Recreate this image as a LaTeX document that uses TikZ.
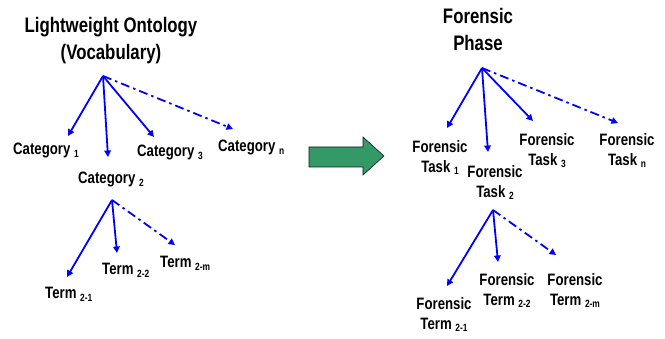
\documentclass[tikz,border=0pt]{standalone}
\usepackage{fontspec}
\setmainfont{Liberation Sans}[FakeStretch=0.8]
\usetikzlibrary{arrows.meta}
\newcommand{\dsub}[1]{\raisebox{-0.3ex}{\fontsize{10.5}{10.5}\selectfont #1}}
\definecolor{arrowgreen}{HTML}{339966}
\tikzset{
  titletext/.style={font=\fontsize{21}{27}\selectfont\bfseries, align=center, inner sep=0pt, anchor=north},
  lbl/.style={font=\fontsize{16.5}{20}\selectfont\bfseries, inner sep=0pt, anchor=base west},
  lbltwo/.style={font=\fontsize{16.5}{20}\selectfont\bfseries, align=center, inner sep=0pt, anchor=north},
  link/.style={draw=blue, line width=1.8pt, -{Triangle[width=6.5pt,length=6.5pt]}},
  dlink/.style={link, dash pattern=on 9pt off 4pt on 2.5pt off 4pt},
}
\begin{document}
\begin{tikzpicture}[x=1pt,y=-1pt]
\useasboundingbox (0,0) rectangle (665,339);
% left tree
\node[titletext] (lt) at (111,17) {Lightweight Ontology\\(Vocabulary)};
\coordinate (lr) at (103,76);
\coordinate (c1e) at (68,136);
\coordinate (c2e) at (108,157);
\coordinate (c3e) at (154,137);
\coordinate (cne) at (233,129);
\node[lbl] (c1) at (13,155) {Category \dsub{1}};
\node[lbl] (c2) at (78,184) {Category \dsub{2}};
\node[lbl] (c3) at (137,157) {Category \dsub{3}};
\node[lbl] (cn) at (218,152) {Category \dsub{n}};
\draw[link] (lr) -- (c1e);
\draw[link] (lr) -- (c2e);
\draw[link] (lr) -- (c3e);
\draw[dlink] (lr) -- (cne);
\coordinate (tr) at (112,200);
\coordinate (t1e) at (67,277);
\coordinate (t2e) at (117,253);
\coordinate (tme) at (175,245);
\node[lbl] (t1) at (45,299) {Term \dsub{2-1}};
\node[lbl] (t2) at (102,275) {Term \dsub{2-2}};
\node[lbl] (tm) at (160,268) {Term \dsub{2-m}};
\draw[link] (tr) -- (t1e);
\draw[link] (tr) -- (t2e);
\draw[dlink] (tr) -- (tme);
% green arrow
\draw[fill=arrowgreen, draw=black!80!arrowgreen, line width=0.6pt]
  (309,147) -- (363,147) -- (363,137) -- (384,156) -- (363,175) -- (363,167) -- (309,167) -- cycle;
% right tree
\node[titletext] (rt) at (478,8) {Forensic\\Phase};
\coordinate (rr) at (482,68);
\coordinate (k1e) at (447,128);
\coordinate (k2e) at (488,152);
\coordinate (k3e) at (533,121);
\coordinate (kne) at (618,123);
\node[lbltwo] (k1) at (440,140) {Forensic\\Task \dsub{1}};
\node[lbltwo] (k2) at (495,165) {Forensic\\Task \dsub{2}};
\node[lbltwo] (k3) at (547,133) {Forensic\\Task \dsub{3}};
\node[lbltwo] (kn) at (627,133) {Forensic\\Task \dsub{n}};
\draw[link] (rr) -- (k1e);
\draw[link] (rr) -- (k2e);
\draw[link] (rr) -- (k3e);
\draw[dlink] (rr) -- (kne);
\coordinate (fr) at (493,210);
\coordinate (f1e) at (447,286);
\coordinate (f2e) at (498,262);
\coordinate (fme) at (556,255);
\node[lbltwo] (f1) at (444,297) {Forensic\\Term \dsub{2-1}};
\node[lbltwo] (f2) at (507,273) {Forensic\\Term \dsub{2-2}};
\node[lbltwo] (fm) at (575,273) {Forensic\\Term \dsub{2-m}};
\draw[link] (fr) -- (f1e);
\draw[link] (fr) -- (f2e);
\draw[dlink] (fr) -- (fme);
\end{tikzpicture}
\end{document}
